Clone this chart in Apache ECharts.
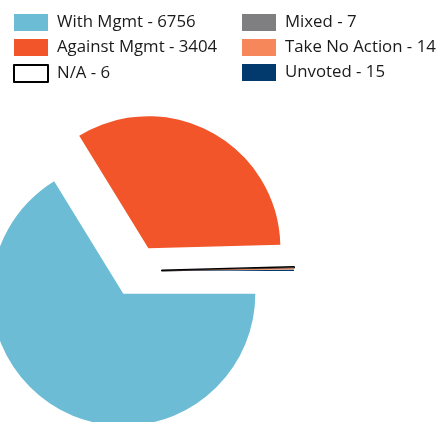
<!DOCTYPE html>
<html lang="en">

<head>
  <meta charset="UTF-8">
  <title>Votes</title>
  <script src="https://cdn.jsdelivr.net/npm/echarts@6/dist/echarts.min.js"></script>
  <style>
    * {
      margin: 0;
      padding: 0;
    }

    body {
      background-color: #fff;
    }

    #pie {
      width: 438px;
      height: 422px;
    }
  </style>
</head>

<body>
  <div id="pie"></div>

  <script type="text/javascript">
    const names = ['With Mgmt', 'Against Mgmt', 'N/A', 'Mixed', 'Take No Action', 'Unvoted']
    const values = [6756, 3404, 6, 7, 14, 15]
    const colors = ['#6cbcd5', '#f15529', '#ffffff', '#7f7f82', '#f5875a', '#033a6e']

    var chartDom = document.getElementById('pie');
    var myChart = echarts.init(chartDom);

    // 每一项都“弹出”
    var seriesData = names.map((n, i) => {
      let item = {
        name: n + ' - ' + values[i],
        value: values[i],
        selected: true,
        itemStyle: { color: colors[i] }
      }
      if (n == 'N/A') {
        item.itemStyle.borderColor = '#000'
        item.itemStyle.borderWidth = 2
      }
      return item
    })

    var legendBase = {
      orient: 'vertical',
      top: 9,
      icon: 'rect',
      itemWidth: 34,
      itemHeight: 17,
      itemGap: 8,
      selectedMode: false,
      textStyle: {
        fontFamily: 'Open Sans',
        fontSize: 16.8,
        color: '#1a1a1a',
        padding: [0, 0, 0, 4]
      }
    }

    var option = {
      animation: false,
      legend: [
        Object.assign({}, legendBase, { left: 8, data: seriesData.slice(0, 3).map(d => d.name) }),
        Object.assign({}, legendBase, { left: 237, data: seriesData.slice(3).map(d => d.name) })
      ],
      series: [
        {
          type: 'pie',
          center: [136, 271],
          radius: [0, 132],
          startAngle: 0,
          clockwise: true,
          selectedMode: 'multiple',
          selectedOffset: 26,
          avoidLabelOverlap: false,
          label: { show: false },
          labelLine: { show: false },
          emphasis: { disabled: true },
          select: { itemStyle: {} },
          data: seriesData
        }
      ]
    };

    option && myChart.setOption(option);
  </script>
</body>

</html>
